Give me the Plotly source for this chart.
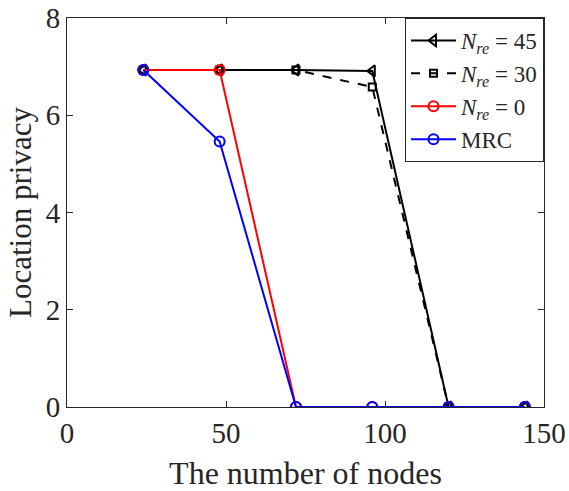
import plotly.graph_objects as go

nodes = [24, 48, 72, 96, 120, 144]
privacy_nre45 = [6.93, 6.93, 6.93, 6.91, 0, 0]
privacy_nre30 = [6.93, 6.93, 6.93, 6.58, 0, 0]
privacy_nre0 = [6.93, 6.93, 0, 0, 0, 0]
privacy_mrc = [6.93, 5.46, 0, 0, 0, 0]

x_ticks = [0, 50, 100, 150]
y_ticks = [0, 2, 4, 6, 8]

serif = "Liberation Serif"
ink = "#262626"

fig = go.Figure()
fig.add_trace(go.Scatter(
    x=nodes, y=privacy_nre45, mode="lines+markers",
    name="<i>N</i><sub><i>re</i></sub> = 45",
    line=dict(color="black", width=2),
    marker=dict(symbol="triangle-left-open", size=10, color="black", line=dict(width=2)),
))
fig.add_trace(go.Scatter(
    x=nodes, y=privacy_nre30, mode="lines+markers",
    name="<i>N</i><sub><i>re</i></sub> = 30",
    line=dict(color="black", width=2, dash="dash"),
    marker=dict(symbol="square-open", size=7, color="black", line=dict(width=2)),
))
fig.add_trace(go.Scatter(
    x=nodes, y=privacy_nre0, mode="lines+markers",
    name="<i>N</i><sub><i>re</i></sub> = 0",
    line=dict(color="red", width=2),
    marker=dict(symbol="circle-open", size=10, color="red", line=dict(width=2)),
))
fig.add_trace(go.Scatter(
    x=nodes, y=privacy_mrc, mode="lines+markers",
    name="MRC",
    line=dict(color="blue", width=2),
    marker=dict(symbol="circle-open", size=10, color="blue", line=dict(width=2)),
))

axis_common = dict(
    showline=True, linecolor=ink, linewidth=1, mirror="allticks",
    ticks="inside", ticklen=6, tickcolor=ink, showgrid=False, zeroline=False,
    automargin=False,
    tickfont=dict(family=serif, size=29, color=ink),
)

fig.update_layout(
    width=569, height=491,
    margin=dict(l=67, r=25, t=18, b=84),
    paper_bgcolor="white", plot_bgcolor="white",
    font=dict(family=serif, color=ink),
    xaxis=dict(range=[0, 150], tickvals=x_ticks,
               title=dict(text="The number of nodes", font=dict(family=serif, size=32), standoff=14),
               **axis_common),
    yaxis=dict(range=[0, 8], tickvals=y_ticks,
               title=dict(text="Location privacy", font=dict(family=serif, size=31), standoff=4),
               **axis_common),
    legend=dict(x=1.0, y=1.0, xanchor="right", yanchor="top",
                bgcolor="white", bordercolor=ink, borderwidth=1,
                font=dict(family=serif, size=23, color=ink),
                tracegroupgap=0, itemwidth=45),
    showlegend=True,
)

fig.write_html("out.html")
